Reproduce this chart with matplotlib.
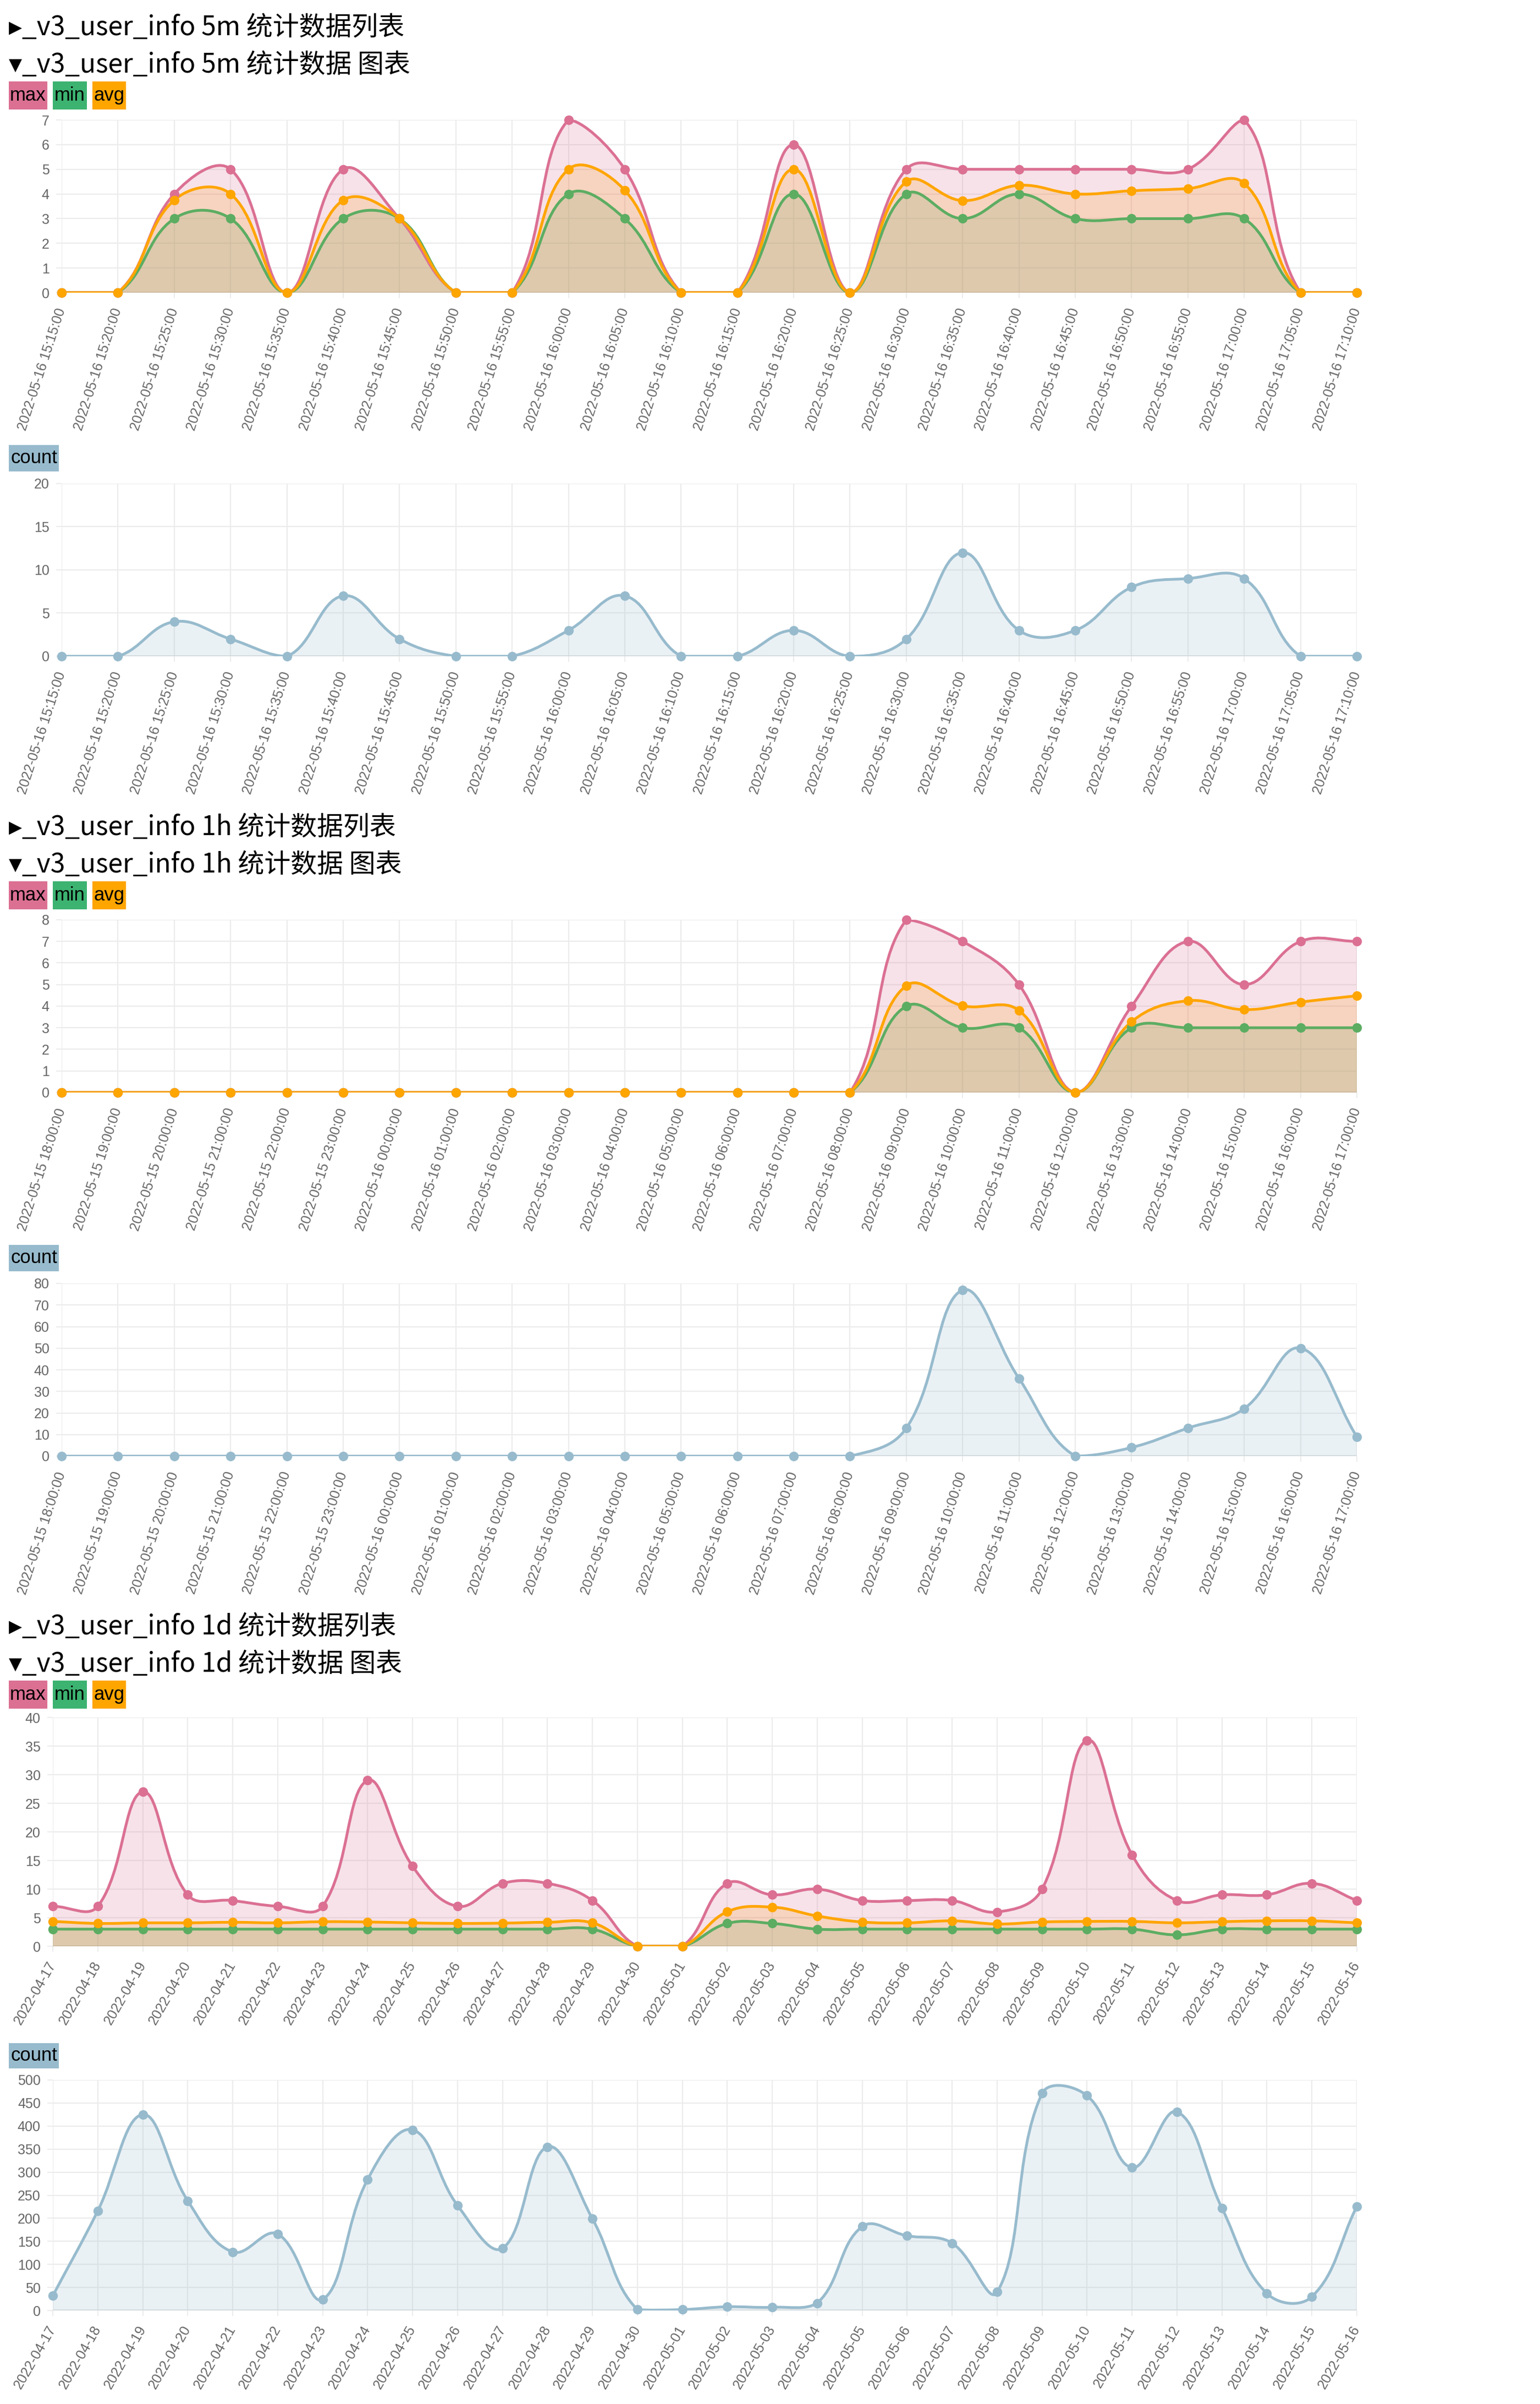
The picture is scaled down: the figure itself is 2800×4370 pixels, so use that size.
"""_v3_user_info statistics: 5m / 1h / 1d charts (max/min/avg + count)."""

import matplotlib
import numpy as np

matplotlib.use("Agg")
import matplotlib.pyplot as plt
from matplotlib.patches import PathPatch, Rectangle
from matplotlib.path import Path

W, H, DPI = 2800, 4370, 100

# ---- data ------------------------------------------------------------------
labels_5m = [
    "2022-05-16 15:15:00", "2022-05-16 15:20:00", "2022-05-16 15:25:00",
    "2022-05-16 15:30:00", "2022-05-16 15:35:00", "2022-05-16 15:40:00",
    "2022-05-16 15:45:00", "2022-05-16 15:50:00", "2022-05-16 15:55:00",
    "2022-05-16 16:00:00", "2022-05-16 16:05:00", "2022-05-16 16:10:00",
    "2022-05-16 16:15:00", "2022-05-16 16:20:00", "2022-05-16 16:25:00",
    "2022-05-16 16:30:00", "2022-05-16 16:35:00", "2022-05-16 16:40:00",
    "2022-05-16 16:45:00", "2022-05-16 16:50:00", "2022-05-16 16:55:00",
    "2022-05-16 17:00:00", "2022-05-16 17:05:00", "2022-05-16 17:10:00",
]
max_5m = [0, 0, 4, 5, 0, 5, 3, 0, 0, 7, 5, 0, 0, 6, 0, 5, 5, 5, 5, 5, 5, 7, 0, 0]
min_5m = [0, 0, 3, 3, 0, 3, 3, 0, 0, 4, 3, 0, 0, 4, 0, 4, 3, 4, 3, 3, 3, 3, 0, 0]
avg_5m = [0, 0, 3.75, 4, 0, 3.75, 3, 0, 0, 5, 4.15, 0, 0, 5, 0, 4.5, 3.73,
          4.35, 4.0, 4.13, 4.22, 4.43, 0, 0]
count_5m = [0, 0, 4, 2, 0, 7, 2, 0, 0, 3, 7, 0, 0, 3, 0, 2, 12, 3, 3, 8, 9, 9, 0, 0]

labels_1h = [
    "2022-05-15 18:00:00", "2022-05-15 19:00:00", "2022-05-15 20:00:00",
    "2022-05-15 21:00:00", "2022-05-15 22:00:00", "2022-05-15 23:00:00",
    "2022-05-16 00:00:00", "2022-05-16 01:00:00", "2022-05-16 02:00:00",
    "2022-05-16 03:00:00", "2022-05-16 04:00:00", "2022-05-16 05:00:00",
    "2022-05-16 06:00:00", "2022-05-16 07:00:00", "2022-05-16 08:00:00",
    "2022-05-16 09:00:00", "2022-05-16 10:00:00", "2022-05-16 11:00:00",
    "2022-05-16 12:00:00", "2022-05-16 13:00:00", "2022-05-16 14:00:00",
    "2022-05-16 15:00:00", "2022-05-16 16:00:00", "2022-05-16 17:00:00",
]
max_1h = [0, 0, 0, 0, 0, 0, 0, 0, 0, 0, 0, 0, 0, 0, 0, 8, 7, 5, 0, 4, 7, 5, 7, 7]
min_1h = [0, 0, 0, 0, 0, 0, 0, 0, 0, 0, 0, 0, 0, 0, 0, 4, 3, 3, 0, 3, 3, 3, 3, 3]
avg_1h = [0, 0, 0, 0, 0, 0, 0, 0, 0, 0, 0, 0, 0, 0, 0, 4.95, 4.02, 3.8, 0,
          3.28, 4.25, 3.84, 4.19, 4.48]
count_1h = [0, 0, 0, 0, 0, 0, 0, 0, 0, 0, 0, 0, 0, 0, 0, 13, 77, 36, 0, 4, 13,
            22, 50, 9]

labels_1d = [
    "2022-04-17", "2022-04-18", "2022-04-19", "2022-04-20", "2022-04-21",
    "2022-04-22", "2022-04-23", "2022-04-24", "2022-04-25", "2022-04-26",
    "2022-04-27", "2022-04-28", "2022-04-29", "2022-04-30", "2022-05-01",
    "2022-05-02", "2022-05-03", "2022-05-04", "2022-05-05", "2022-05-06",
    "2022-05-07", "2022-05-08", "2022-05-09", "2022-05-10", "2022-05-11",
    "2022-05-12", "2022-05-13", "2022-05-14", "2022-05-15", "2022-05-16",
]
max_1d = [7, 7, 27, 9, 8, 7, 7, 29, 14, 7, 11, 11, 8, 0, 0, 11, 9, 10, 8, 8,
          8, 6, 10, 36, 16, 8, 9, 9, 11, 8]
min_1d = [3, 3, 3, 3, 3, 3, 3, 3, 3, 3, 3, 3, 3, 0, 0, 4, 4, 3, 3, 3, 3, 3, 3,
          3, 3, 2, 3, 3, 3, 3]
avg_1d = [4.35, 4.0, 4.1, 4.1, 4.2, 4.1, 4.3, 4.25, 4.1, 4.0, 4.05, 4.2, 4.1,
          0, 0, 6.05, 6.85, 5.3, 4.25, 4.1, 4.45, 3.9, 4.25, 4.35, 4.35, 4.1,
          4.3, 4.45, 4.45, 4.1]
count_1d = [32, 216, 425, 238, 127, 166, 24, 284, 392, 228, 135, 355, 199, 2,
            2, 8, 7, 16, 182, 162, 146, 40, 471, 466, 310, 431, 222, 37, 30, 226]

# ---- style -----------------------------------------------------------------
C_MAX = "#db7093"
C_MIN = "#3cb371"
C_MIN_LINE = "#5cad62"
C_AVG = "#ffa500"
C_COUNT = "#97bbcd"
GRID = "#ececec"
TICK_FONT = ["Liberation Sans", "DejaVu Sans"]
HEAD_FONT = ["Noto Sans CJK SC", "DejaVu Sans"]
LW = 3.6
MS = 12.5

fig = plt.figure(figsize=(W / DPI, H / DPI), dpi=DPI)


def px_axes(left, top, right, bottom):
    return fig.add_axes([left / W, 1 - bottom / H, (right - left) / W, (bottom - top) / H])


def spline(ax, ys, tension=0.4):
    """Chart.js style bezier through the points, built in display space."""
    n = len(ys)
    pts = ax.transData.transform(np.column_stack([np.arange(n), ys]))
    lo = ax.transData.transform((0, ax.get_ylim()[0]))
    hi = ax.transData.transform((n - 1, ax.get_ylim()[1]))
    cps, cns = [], []
    for i in range(n):
        prev, cur, nxt = pts[max(i - 1, 0)], pts[i], pts[min(i + 1, n - 1)]
        d01 = np.hypot(*(cur - prev))
        d12 = np.hypot(*(nxt - cur))
        tot = d01 + d12
        s01 = d01 / tot if tot else 0
        s12 = d12 / tot if tot else 0
        cp = cur - tension * s01 * (nxt - prev)
        cn = cur + tension * s12 * (nxt - prev)
        for c in (cp, cn):
            c[0] = min(max(c[0], lo[0]), hi[0])
            c[1] = min(max(c[1], lo[1]), hi[1])
        cps.append(cp)
        cns.append(cn)
    verts = [pts[0]]
    codes = [Path.MOVETO]
    for i in range(n - 1):
        verts += [cns[i], cps[i + 1], pts[i + 1]]
        codes += [Path.CURVE4] * 3
    verts = ax.transData.inverted().transform(np.array(verts))
    return verts, codes


def draw_series(ax, ys, color, line_color=None):
    n = len(ys)
    verts, codes = spline(ax, ys)
    fv = np.vstack([verts, [[n - 1, 0], [0, 0], [0, 0]]])
    fc = codes + [Path.LINETO, Path.LINETO, Path.CLOSEPOLY]
    ax.add_patch(PathPatch(Path(fv, fc), facecolor=color, alpha=0.2, lw=0, zorder=1))
    return verts, codes, line_color or color


def setup_axes(ax, labels, ymax, ystep, rot):
    n = len(labels)
    ax.set_xlim(0, n - 1)
    ax.set_ylim(0, ymax)
    for s in ax.spines.values():
        s.set_visible(False)
    yt = np.arange(0, ymax + ystep / 2, ystep)
    ax.set_xticks(range(n))
    ax.set_yticks(yt)
    ax.set_xticklabels(labels, rotation=rot, ha="right", va="center",
                       rotation_mode="anchor", family=TICK_FONT)
    ax.set_yticklabels([f"{v:g}" for v in yt], family=TICK_FONT)
    ax.tick_params(axis="both", length=7, width=1.4, color=GRID, labelsize=18,
                   labelcolor="#666666")
    ax.tick_params(axis="x", pad=14)
    ax.tick_params(axis="y", pad=9)
    ax.grid(True, color=GRID, lw=1.6)
    ax.set_axisbelow(True)
    ax.axhline(0, color="#e2e2e2", lw=2.6, zorder=0.8)


def legend_box(x0, x1, top, bottom, text, color):
    fig.add_artist(Rectangle((x0 / W, 1 - bottom / H), (x1 - x0) / W, (bottom - top) / H,
                             transform=fig.transFigure, facecolor=color, lw=0))
    fig.text((x0 + x1) / 2 / W, 1 - (top + bottom) / 2 / H, text, ha="center",
             va="center", fontsize=25, family=TICK_FONT, color="black")


def header(y, text):
    fig.text(16 / W, 1 - y / H, text, ha="left", va="center", fontsize=34.5,
             family=HEAD_FONT, color="black")


def stat_chart(rect, labels, mx, mn, av, ymax, ystep, rot):
    ax = px_axes(*rect)
    setup_axes(ax, labels, ymax, ystep, rot)
    lines = []
    for ys, c, lc in ((mn, C_MIN, C_MIN_LINE), (av, C_AVG, None), (mx, C_MAX, None)):
        lines.append((ys,) + draw_series(ax, ys, c, lc))
    x = np.arange(len(labels))
    for ys, verts, codes, lc in (lines[0], lines[2], lines[1]):
        ax.add_patch(PathPatch(Path(verts, codes), facecolor="none", edgecolor=lc,
                               lw=LW, zorder=3))
        ax.plot(x, ys, "o", color=lc, ms=MS, mew=0, zorder=4, clip_on=False)
    return ax


def count_chart(rect, labels, cnt, ymax, ystep, rot):
    ax = px_axes(*rect)
    setup_axes(ax, labels, ymax, ystep, rot)
    verts, codes, lc = draw_series(ax, cnt, C_COUNT)
    ax.add_patch(PathPatch(Path(verts, codes), facecolor="none", edgecolor=lc,
                           lw=LW, zorder=3))
    ax.plot(np.arange(len(labels)), cnt, "o", color=lc, ms=MS, mew=0, zorder=4,
            clip_on=False)
    return ax


sections = [
    # (offset, tag, labels, max, min, avg, count, ymax, ystep, cmax, cstep, left, rot)
    (0, "5m", labels_5m, max_5m, min_5m, avg_5m, count_5m, 7, 1, 20, 5, 112, 72),
    (1454, "1h", labels_1h, max_1h, min_1h, avg_1h, count_1h, 8, 1, 80, 10, 112, 72),
]

for off, tag, lab, mx, mn, av, cnt, ym, ys_, cm, cs, left, rot in sections:
    header(50 + off, f"\u25b8_v3_user_info {tag} 统计数据列表")
    header(118 + off, f"\u25be_v3_user_info {tag} 统计数据 图表")
    legend_box(16, 86, 148 + off, 199 + off, "max", C_MAX)
    legend_box(96, 158, 148 + off, 199 + off, "min", C_MIN)
    legend_box(168, 229, 148 + off, 199 + off, "avg", C_AVG)
    stat_chart((left, 218 + off, 2467, 532 + off), lab, mx, mn, av, ym, ys_, rot)
    legend_box(16, 107, 809 + off, 857 + off, "count", C_COUNT)
    count_chart((left, 879 + off, 2467, 1193 + off), lab, cnt, cm, cs, rot)

off = 2907
header(50 + off, "\u25b8_v3_user_info 1d 统计数据列表")
header(118 + off, "\u25be_v3_user_info 1d 统计数据 图表")
legend_box(16, 86, 148 + off, 199 + off, "max", C_MAX)
legend_box(96, 158, 148 + off, 199 + off, "min", C_MIN)
legend_box(168, 229, 148 + off, 199 + off, "avg", C_AVG)
stat_chart((96, 3122, 2467, 3538), labels_1d, max_1d, min_1d, avg_1d, 40, 5, 60)
legend_box(16, 107, 3714, 3760, "count", C_COUNT)
count_chart((96, 3781, 2467, 4200), labels_1d, count_1d, 500, 50, 60)

fig.savefig("out.png", dpi=DPI, facecolor="white")
plt.close(fig)
